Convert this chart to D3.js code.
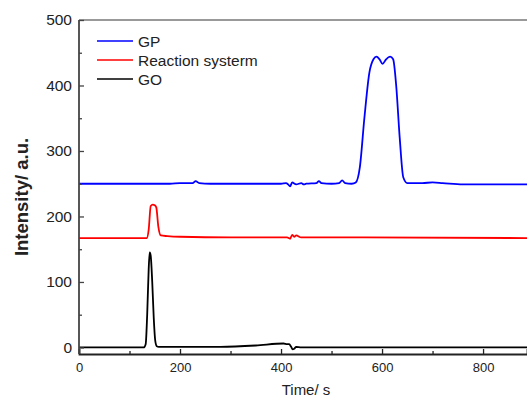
<!DOCTYPE html>
<html>
<head>
<meta charset="utf-8">
<script src="https://cdn.jsdelivr.net/npm/d3@7"></script>
<style>
  body { margin: 0; background: #fff; }
  text { font-family: "Liberation Sans", Arial, sans-serif; }
</style>
</head>
<body>
<div id="chart"></div>
<script>
// series (time in s, intensity in a.u.)
const gpTime = [0, 180, 200, 225, 231, 238, 260, 400, 410, 414, 418, 422, 430, 440, 445, 450, 470, 475, 480, 500, 515, 521, 527, 540, 548, 556, 565, 575, 583, 589, 595, 601, 608, 616, 622, 628, 635, 642, 650, 680, 700, 720, 760, 887];
const gpValue = [250, 250, 251, 251, 254, 251, 250, 250, 251, 249, 246, 252, 249, 251, 249, 250, 251, 254, 251, 250, 251, 255, 251, 250, 252, 275, 350, 420, 440, 444, 440, 433, 440, 444, 440, 400, 320, 260, 251, 251, 252, 251, 249, 249];

const rsTime = [0, 134, 138, 142, 146, 150, 153, 157, 162, 175, 200, 300, 400, 412, 418, 422, 426, 430, 440, 500, 560, 887];
const rsValue = [167, 167, 180, 216, 218, 217, 214, 185, 171, 170, 169, 168, 168, 168, 166, 172, 169, 171, 168, 168, 168, 167];

const goTime = [0, 128, 132, 135, 138, 140, 142, 145, 148, 151, 154, 158, 170, 200, 280, 350, 405, 412, 416, 420, 423, 426, 430, 440, 887];
const goValue = [0, 0, 5, 50, 120, 145, 140, 100, 45, 10, 2, 1, 1, 1, 1, 3, 6, 5, 5, 1, -3, -2, 1, 0, 0];

const seriesNames = ['GP', 'Reaction systerm', 'GO'];
const seriesColors = ['#0000ff', '#ff0000', '#000000'];
const xTicks = [0, 200, 400, 600, 800];
const yTicks = [0, 100, 200, 300, 400, 500];

const width = 527, height = 397;
const margin = { top: 20, right: 0, bottom: 43, left: 79 };

const svg = d3.select('#chart')
  .append('svg')
  .attr('width', width)
  .attr('height', height);

const x = d3.scaleLinear()
  .domain([0, 887])
  .range([margin.left, width - margin.right]);

const y = d3.scaleLinear()
  .domain([-10, 500])
  .range([height - margin.bottom, margin.top]);

const series = [
  { name: seriesNames[0], color: seriesColors[0], t: gpTime, v: gpValue },
  { name: seriesNames[1], color: seriesColors[1], t: rsTime, v: rsValue },
  { name: seriesNames[2], color: seriesColors[2], t: goTime, v: goValue },
];

const line = d3.line()
  .x((d) => x(d[0]))
  .y((d) => y(d[1]))
  .curve(d3.curveMonotoneX);

svg.append('g')
  .selectAll('path')
  .data(series)
  .enter()
  .append('path')
    .attr('fill', 'none')
    .attr('stroke', (d) => d.color)
    .attr('stroke-width', 1.8)
    .attr('stroke-linejoin', 'round')
    .attr('d', (d) => line(d.t.map((t, i) => [t, d.v[i]])));

// frame top (grey)
svg.append('line')
  .attr('x1', margin.left).attr('x2', width)
  .attr('y1', y(500)).attr('y2', y(500))
  .attr('stroke', '#777').attr('stroke-width', 1.6);

// bottom axis, ticks inward
const xAxis = svg.append('g')
  .attr('transform', `translate(0,${y(-10)})`)
  .call(d3.axisBottom(x).tickValues(d3.range(0, 887, 100)).tickSize(-5).tickFormat((d) => xTicks.includes(d) ? d : ''));
xAxis.select('.domain').attr('stroke', '#222').attr('stroke-width', 1.8);
xAxis.selectAll('.tick line')
  .attr('stroke', '#222').attr('stroke-width', 1.3)
  .attr('y2', (d) => xTicks.includes(d) ? -5 : -3);
xAxis.selectAll('.tick text')
  .attr('y', 9).attr('font-size', '13px').attr('fill', '#222')
  .attr('font-family', '"Liberation Sans", Arial, sans-serif');

// left axis, ticks inward
const yAxis = svg.append('g')
  .attr('transform', `translate(${margin.left},0)`)
  .call(d3.axisLeft(y).tickValues(d3.range(0, 501, 50)).tickSize(-5).tickFormat((d) => yTicks.includes(d) ? d : ''));
yAxis.select('.domain').attr('stroke', '#444').attr('stroke-width', 1.8)
  .attr('d', `M0,${y(-10)}V${y(500)}`);
yAxis.selectAll('.tick line')
  .attr('stroke', '#444').attr('stroke-width', 1.3)
  .attr('x2', (d) => yTicks.includes(d) ? 5 : 3);
yAxis.selectAll('.tick text')
  .attr('x', -7).attr('font-size', '15.5px').attr('fill', '#222')
  .attr('font-family', '"Liberation Sans", Arial, sans-serif');

// axis titles
svg.append('text')
  .attr('x', 306).attr('y', 395)
  .attr('text-anchor', 'middle')
  .attr('font-size', '15px')
  .attr('fill', '#222')
  .text('Time/ s');

svg.append('text')
  .attr('transform', 'translate(28,197) rotate(-90)')
  .attr('text-anchor', 'middle')
  .attr('font-size', '18.5px')
  .attr('font-weight', 'bold')
  .attr('fill', '#222')
  .text('Intensity/ a.u.');

// legend
const legend = svg.append('g')
  .selectAll('g')
  .data(series)
  .enter()
  .append('g')
    .attr('transform', (d, i) => `translate(97,${41 + i * 19})`);
legend.append('line')
  .attr('x1', 0).attr('x2', 36)
  .attr('stroke', (d) => d.color)
  .attr('stroke-width', 1.6);
legend.append('text')
  .attr('x', 41).attr('dy', '0.36em')
  .attr('font-size', '15.5px')
  .attr('fill', '#222')
  .text((d) => d.name);
</script>
</body>
</html>
